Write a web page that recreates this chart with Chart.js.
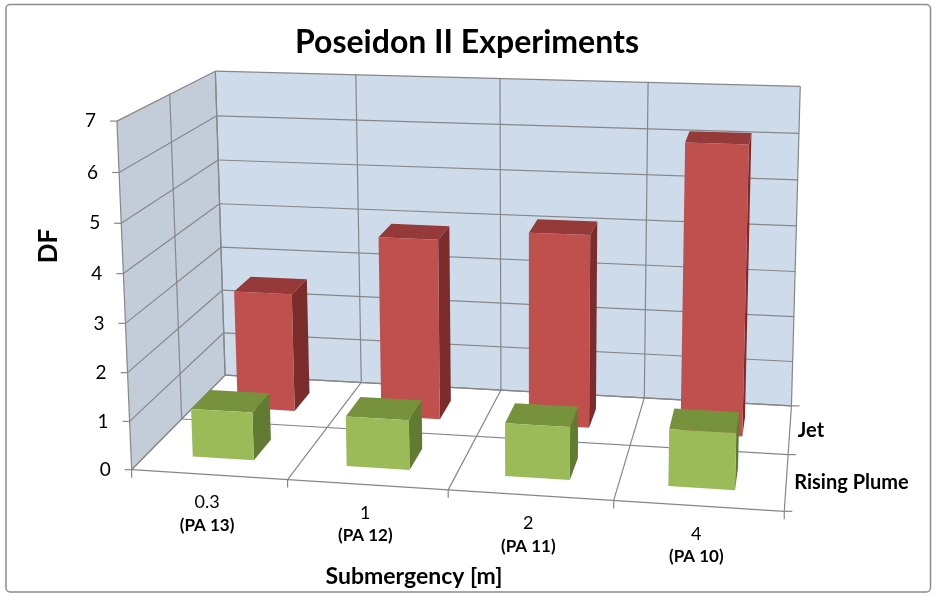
<!DOCTYPE html>
<html>
<head>
<meta charset="utf-8">
<script src="https://cdn.jsdelivr.net/npm/chart.js@4.4.0/dist/chart.umd.min.js"></script>
<style>
  html, body { margin: 0; padding: 0; background: #fff; }
  canvas { display: block; }
</style>
</head>
<body>
<canvas id="chart" width="936" height="597"></canvas>
<script>
// ---- data ----
const categories = ['0.3', '1', '2', '4'];
const runLabels = ['(PA 13)', '(PA 12)', '(PA 11)', '(PA 10)'];
const risingPlume = [1.0, 1.03, 1.08, 1.15];
const jet = [2.6, 3.92, 4.15, 6.15];
const valueTicks = [0, 1, 2, 3, 4, 5, 6, 7];
const seriesNames = ['Rising Plume', 'Jet'];   // front row first

// ---- 3D frame layout ----
// Box coordinates are fractions of the plot box: x along categories,
// y along the value range, z from the front row to the back wall.
// Each entry: [x, y, z, canvasX, canvasY].
const frameAnchors = [
  [0, 0, 0, 133, 468], [0, 0, 0.5, 182, 419], [0, 0, 1, 225, 375],
  [0, 1, 0, 117, 120], [0, 1, 0.5, 169, 94], [0, 1, 1, 215, 71],
  [0.25, 1, 1, 357, 75], [0.5, 1, 1, 500, 79], [0.75, 1, 1, 648, 83],
  [1, 1, 1, 800, 87], [1, 6 / 7, 1, 799, 133],
  [1, 0, 1, 792, 405], [1, 0, 0.5, 789, 453], [1, 0, 0, 785, 509],
  [0.25, 0, 1, 360, 383], [0.25, 0, 0, 288, 480],
  [0.5, 0, 0, 448, 493], [0.75, 0, 0, 611, 503]
];

const BAR_FRACTION = 0.4;    // column width / category width
const DEPTH_FRACTION = 0.4;  // column depth / row depth

const colors = {
  'Rising Plume': { front: '#9BBB59', top: '#76923C', side: '#627B32' },
  'Jet':          { front: '#C0504D', top: '#953A38', side: '#7B2D2B' }
};
const FONT = 'Lato, "Open Sans", sans-serif';

function solveLinear(A, b) {
  const n = b.length;
  const M = A.map((row, i) => row.concat([b[i]]));
  for (let c = 0; c < n; c++) {
    let piv = c;
    for (let r = c + 1; r < n; r++) if (Math.abs(M[r][c]) > Math.abs(M[piv][c])) piv = r;
    [M[c], M[piv]] = [M[piv], M[c]];
    for (let r = 0; r < n; r++) {
      if (r === c) continue;
      const f = M[r][c] / M[c][c];
      for (let k = c; k <= n; k++) M[r][k] -= f * M[c][k];
    }
  }
  return M.map((row, i) => row[n] / row[i]);
}

// Least-squares 3x4 perspective camera (last entry fixed to 1).
function fitCamera(anchors) {
  const n = 11;
  const AtA = Array.from({ length: n }, () => new Array(n).fill(0));
  const Atb = new Array(n).fill(0);
  const add = (r, t) => {
    for (let a = 0; a < n; a++) {
      Atb[a] += r[a] * t;
      for (let b = 0; b < n; b++) AtA[a][b] += r[a] * r[b];
    }
  };
  anchors.forEach(([X, Y, Z, u, v]) => {
    add([X, Y, Z, 1, 0, 0, 0, 0, -u * X, -u * Y, -u * Z], u);
    add([0, 0, 0, 0, X, Y, Z, 1, -v * X, -v * Y, -v * Z], v);
  });
  const p = solveLinear(AtA, Atb);
  return (x, y, z) => {
    const w = p[8] * x + p[9] * y + p[10] * z + 1;
    return [(p[0] * x + p[1] * y + p[2] * z + p[3]) / w,
            (p[4] * x + p[5] * y + p[6] * z + p[7]) / w];
  };
}

const scene3d = {
  id: 'scene3d',
  beforeDatasetsDraw(chart) {
    const ctx = chart.ctx;
    const xs = chart.scales.x, ys = chart.scales.y;
    const proj = fitCamera(frameAnchors);
    const nCat = chart.data.labels.length;
    const nRow = chart.data.datasets.length;

    const xFrac = i => (xs.getPixelForValue(i) - xs.left) / xs.width;
    const yFrac = v => (ys.bottom - ys.getPixelForValue(v)) / ys.height;

    const poly = (pts, fill, stroke) => {
      ctx.beginPath();
      pts.forEach((p, k) => {
        const q = proj(p[0], p[1], p[2]);
        k ? ctx.lineTo(q[0], q[1]) : ctx.moveTo(q[0], q[1]);
      });
      ctx.closePath();
      if (fill) { ctx.fillStyle = fill; ctx.fill(); }
      if (stroke) { ctx.strokeStyle = stroke; ctx.stroke(); }
    };
    const line = (a, b) => {
      const p = proj(...a), q = proj(...b);
      ctx.beginPath(); ctx.moveTo(p[0], p[1]); ctx.lineTo(q[0], q[1]); ctx.stroke();
    };

    ctx.save();
    // walls
    poly([[0, 0, 0], [0, 0, 1], [0, 1, 1], [0, 1, 0]], '#C3CDDA');
    poly([[0, 0, 1], [1, 0, 1], [1, 1, 1], [0, 1, 1]], '#CEDBEB');

    // grid
    ctx.strokeStyle = '#878787';
    ctx.lineWidth = 1.2;
    valueTicks.forEach(t => {
      const f = yFrac(t);
      line([0, f, 0], [0, f, 1]);
      line([0, f, 1], [1, f, 1]);
    });
    for (let r = 0; r <= nRow; r++) {
      const z = r / nRow;
      line([0, 0, z], [1, 0, z]);
      line([0, 0, z], [0, 1, z]);
    }
    for (let i = 0; i <= nCat; i++) {
      const x = i / nCat;
      line([x, 0, 0], [x, 0, 1]);
      line([x, 0, 1], [x, 1, 1]);
    }

    // axis ticks
    valueTicks.forEach(t => {
      const p = proj(0, yFrac(t), 0);
      ctx.beginPath(); ctx.moveTo(p[0] - 7, p[1]); ctx.lineTo(p[0], p[1]); ctx.stroke();
    });
    for (let i = 0; i <= nCat; i++) {
      const p = proj(i / nCat, 0, 0);
      ctx.beginPath(); ctx.moveTo(p[0], p[1]); ctx.lineTo(p[0], p[1] + 8); ctx.stroke();
    }
    for (let r = 0; r <= nRow; r++) {
      const p = proj(1, 0, r / nRow);
      ctx.beginPath(); ctx.moveTo(p[0], p[1]); ctx.lineTo(p[0] + 8, p[1]); ctx.stroke();
    }

    // columns, back row first
    const hw = BAR_FRACTION / nCat / 2;
    const hd = DEPTH_FRACTION / nRow / 2;
    for (let d = nRow - 1; d >= 0; d--) {
      const ds = chart.data.datasets[d];
      const col = colors[ds.label];
      const zc = (d + 0.5) / nRow;
      const z0 = zc - hd, z1 = zc + hd;
      ds.data.forEach((v, i) => {
        const xc = xFrac(i);
        const x0 = xc - hw, x1 = xc + hw;
        const yt = yFrac(v);
        poly([[x1, 0, z0], [x1, 0, z1], [x1, yt, z1], [x1, yt, z0]], col.side);
        poly([[x0, yt, z0], [x1, yt, z0], [x1, yt, z1], [x0, yt, z1]], col.top);
        poly([[x0, 0, z0], [x1, 0, z0], [x1, yt, z0], [x0, yt, z0]], col.front);
      });
    }

    // labels
    ctx.fillStyle = '#000';
    ctx.textBaseline = 'middle';
    ctx.textAlign = 'right';
    ctx.font = '19px ' + FONT;
    valueTicks.forEach(t => {
      const p = proj(0, yFrac(t), 0);
      ctx.fillText(String(t), p[0] - 21, p[1]);
    });

    ctx.textAlign = 'center';
    chart.data.labels.forEach((lab, i) => {
      const p = proj(xFrac(i), 0, 0);
      ctx.font = '18px ' + FONT;
      ctx.fillText(lab, p[0] - 2, p[1] + 28);
      ctx.font = 'bold 17px ' + FONT;
      ctx.fillText(runLabels[i], p[0] - 2, p[1] + 51);
    });

    ctx.textAlign = 'left';
    ctx.font = 'bold 20px ' + FONT;
    chart.data.datasets.forEach((ds, d) => {
      const p = proj(1, 0, (d + 0.5) / nRow);
      ctx.fillText(ds.label, p[0] + 8, p[1] + 1);
    });

    // axis titles
    ctx.textAlign = 'center';
    ctx.font = 'bold 23px ' + FONT;
    ctx.fillText('Submergency [m]', 414, 577);
    ctx.save();
    ctx.translate(49, 246);
    ctx.rotate(-Math.PI / 2);
    ctx.font = 'bold 26px ' + FONT;
    ctx.fillText('DF', 0, 0);
    ctx.restore();

    ctx.restore();
    return false;
  },
  afterDraw(chart) {
    const ctx = chart.ctx;
    ctx.save();
    ctx.strokeStyle = '#8C8C8C';
    ctx.lineWidth = 1.5;
    ctx.beginPath();
    ctx.roundRect(6, 4.5, 924.5, 587.5, 4);
    ctx.stroke();
    ctx.restore();
  }
};

new Chart(document.getElementById('chart'), {
  type: 'bar',
  data: {
    labels: categories,
    datasets: [
      { label: seriesNames[0], data: risingPlume },
      { label: seriesNames[1], data: jet }
    ]
  },
  options: {
    responsive: false,
    animation: false,
    devicePixelRatio: 1,
    layout: { padding: { left: 120, right: 122, top: 0, bottom: 120 } },
    plugins: {
      legend: { display: false },
      tooltip: { enabled: false },
      title: {
        display: true,
        text: 'Poseidon II Experiments',
        color: '#000',
        font: { family: FONT, size: 32, weight: 'bold' },
        padding: { top: 23, bottom: 10 }
      }
    },
    scales: {
      x: { display: false, offset: true },
      y: { display: false, min: 0, max: 7 }
    }
  },
  plugins: [scene3d]
});
</script>
</body>
</html>
